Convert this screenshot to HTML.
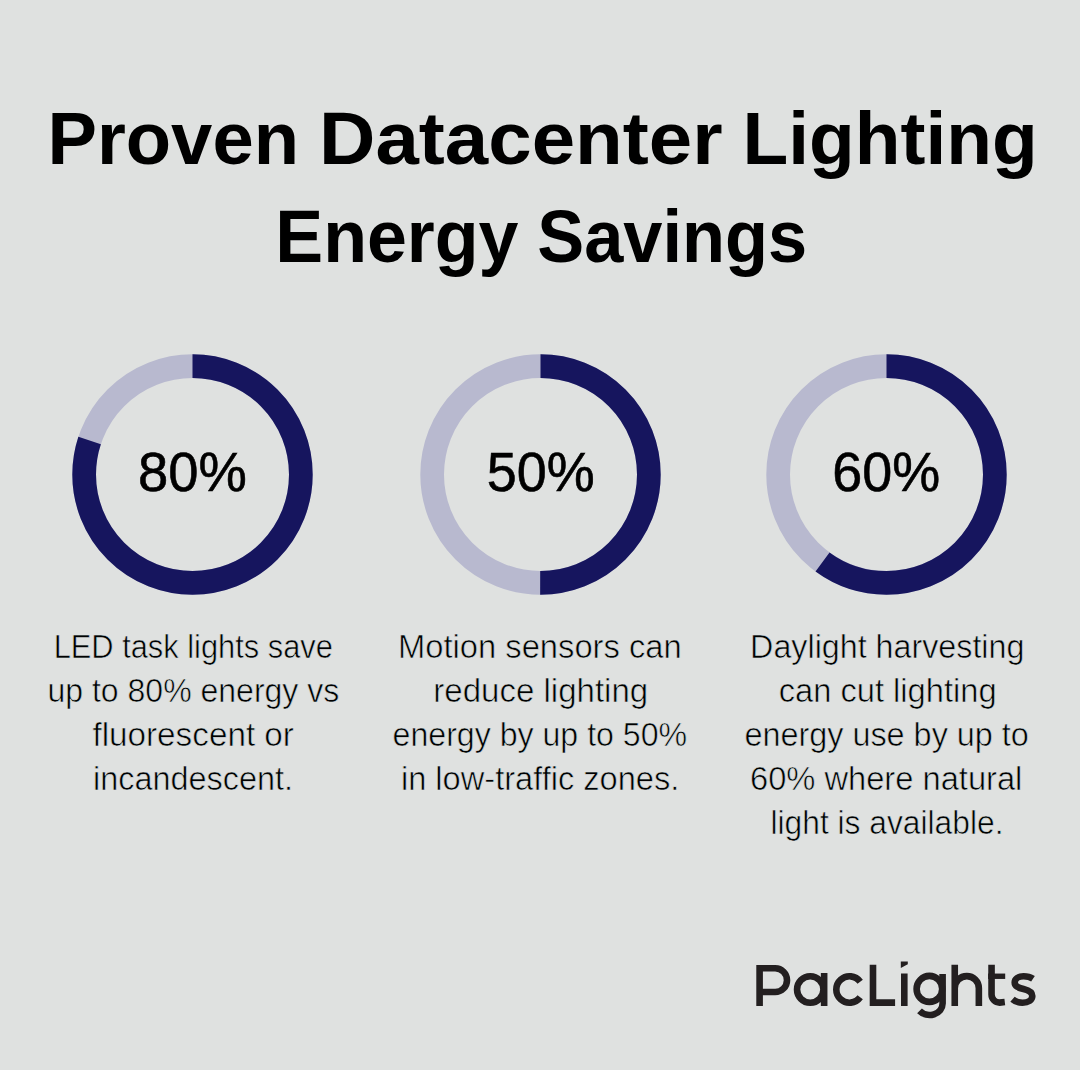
<!DOCTYPE html>
<html><head><meta charset="utf-8">
<style>
html,body{margin:0;padding:0;}
body{width:1080px;height:1070px;background:#dfe1e0;position:relative;overflow:hidden;font-family:"Liberation Sans",sans-serif;}
svg{position:absolute;left:0;top:0;}
.ti{font-weight:bold;fill:#000;}
.pc{font-weight:normal;fill:#000;stroke:#000;stroke-width:0.6px;}
.bd{font-weight:normal;fill:#000;stroke:#dfe1e0;stroke-width:0.6px;}

</style></head><body>
<svg width="1080" height="1070" viewBox="0 0 1080 1070" font-family="Liberation Sans">
<circle cx="192.5" cy="474.5" r="108.35" fill="none" stroke="#b8b9cf" stroke-width="23.7"/>
<circle cx="192.5" cy="474.5" r="108.35" fill="none" stroke="#16155e" stroke-width="23.7" stroke-dasharray="544.627 680.783" transform="rotate(-90 192.5 474.5)"/>
<circle cx="540.5" cy="474.5" r="108.35" fill="none" stroke="#b8b9cf" stroke-width="23.7"/>
<circle cx="540.5" cy="474.5" r="108.35" fill="none" stroke="#16155e" stroke-width="23.7" stroke-dasharray="340.392 680.783" transform="rotate(-90 540.5 474.5)"/>
<circle cx="886.5" cy="474.5" r="108.35" fill="none" stroke="#b8b9cf" stroke-width="23.7"/>
<circle cx="886.5" cy="474.5" r="108.35" fill="none" stroke="#16155e" stroke-width="23.7" stroke-dasharray="408.470 680.783" transform="rotate(-90 886.5 474.5)"/>
<text class="ti" x="47.47" y="163.90" font-size="74.85" textLength="251.48" lengthAdjust="spacingAndGlyphs">Proven</text>
<text class="ti" x="319.02" y="163.90" font-size="74.85" textLength="403.54" lengthAdjust="spacingAndGlyphs">Datacenter</text>
<text class="ti" x="742.48" y="163.90" font-size="74.85" textLength="295.20" lengthAdjust="spacingAndGlyphs">Lighting</text>
<text class="ti" x="275.31" y="262.10" font-size="74.85" textLength="243.21" lengthAdjust="spacingAndGlyphs">Energy</text>
<text class="ti" x="537.21" y="262.10" font-size="74.85" textLength="269.90" lengthAdjust="spacingAndGlyphs">Savings</text>
<text class="pc" x="138.00" y="491.10" font-size="56.3" textLength="108.88" lengthAdjust="spacingAndGlyphs">80%</text>
<text class="pc" x="486.66" y="491.10" font-size="56.3" textLength="107.97" lengthAdjust="spacingAndGlyphs">50%</text>
<text class="pc" x="832.21" y="491.10" font-size="56.3" textLength="107.90" lengthAdjust="spacingAndGlyphs">60%</text>
<text class="bd" x="53.63" y="657.80" font-size="33" textLength="279.22" lengthAdjust="spacingAndGlyphs">LED task lights save</text>
<text class="bd" x="47.46" y="701.80" font-size="33" textLength="291.79" lengthAdjust="spacingAndGlyphs">up to 80% energy vs</text>
<text class="bd" x="92.42" y="745.80" font-size="33" textLength="201.55" lengthAdjust="spacingAndGlyphs">fluorescent or</text>
<text class="bd" x="92.96" y="789.80" font-size="33" textLength="200.08" lengthAdjust="spacingAndGlyphs">incandescent.</text>
<text class="bd" x="398.06" y="657.80" font-size="33" textLength="283.58" lengthAdjust="spacingAndGlyphs">Motion sensors can</text>
<text class="bd" x="433.34" y="701.80" font-size="33" textLength="214.81" lengthAdjust="spacingAndGlyphs">reduce lighting</text>
<text class="bd" x="392.58" y="745.80" font-size="33" textLength="294.54" lengthAdjust="spacingAndGlyphs">energy by up to 50%</text>
<text class="bd" x="400.94" y="789.80" font-size="33" textLength="278.42" lengthAdjust="spacingAndGlyphs">in low-traffic zones.</text>
<text class="bd" x="750.12" y="657.80" font-size="33" textLength="274.30" lengthAdjust="spacingAndGlyphs">Daylight harvesting</text>
<text class="bd" x="778.69" y="701.80" font-size="33" textLength="217.92" lengthAdjust="spacingAndGlyphs">can cut lighting</text>
<text class="bd" x="744.42" y="745.80" font-size="33" textLength="284.44" lengthAdjust="spacingAndGlyphs">energy use by up to</text>
<text class="bd" x="750.01" y="789.80" font-size="33" textLength="272.36" lengthAdjust="spacingAndGlyphs">60% where natural</text>
<text class="bd" x="770.46" y="833.80" font-size="33" textLength="233.02" lengthAdjust="spacingAndGlyphs">light is available.</text>
<g fill="none" stroke="#231f20" stroke-width="6.6" stroke-linejoin="miter">
<path d="M759.6,1006 V968.3 H775.15 A11.85,11.85 0 0 1 775.15,992 H759.6"/>
<circle cx="810.25" cy="989.5" r="13.2"/>
<path d="M824.15,973 V1006"/>
<path d="M860.18,981.74 A13.2,13.2 0 1 0 860.18,997.26"/>
<path d="M873,964.7 V1002.6 H895.1"/>
<path d="M904.3,973.5 V1006"/>
<ellipse cx="929.4" cy="988.9" rx="12.8" ry="13"/>
<path d="M942.6,974 V1003.5 A13.1,11.5 0 0 1 919.5,1010.9"/>
<path d="M954.75,964.8 V1006 M978.85,1006 V988.2 A12,12 0 0 0 954.75,988.2"/>
<path d="M991.55,964.8 V994.6 A8,8 0 0 0 999.55,1002.6 L1004.8,1002"/>
<path d="M988.1,976.25 H1005.2" stroke-width="5.4"/>
<path d="M1033,978.8 C1030,976.8 1026.5,976.3 1023.5,976.3 C1018,976.3 1014.7,979 1014.7,982.5 C1014.7,986.5 1018.5,987.8 1023.5,989 C1029,990.3 1032.3,992 1032.3,996 C1032.3,1000 1028.5,1002.7 1022.5,1002.7 C1018.5,1002.7 1015,1001.5 1012.5,999.3"/>
</g>
<path fill="#231f20" d="M900.8,961.4 L907.8,961.4 L907.8,964.2 L900.8,968.1 Z"/>

</svg>
</body></html>
